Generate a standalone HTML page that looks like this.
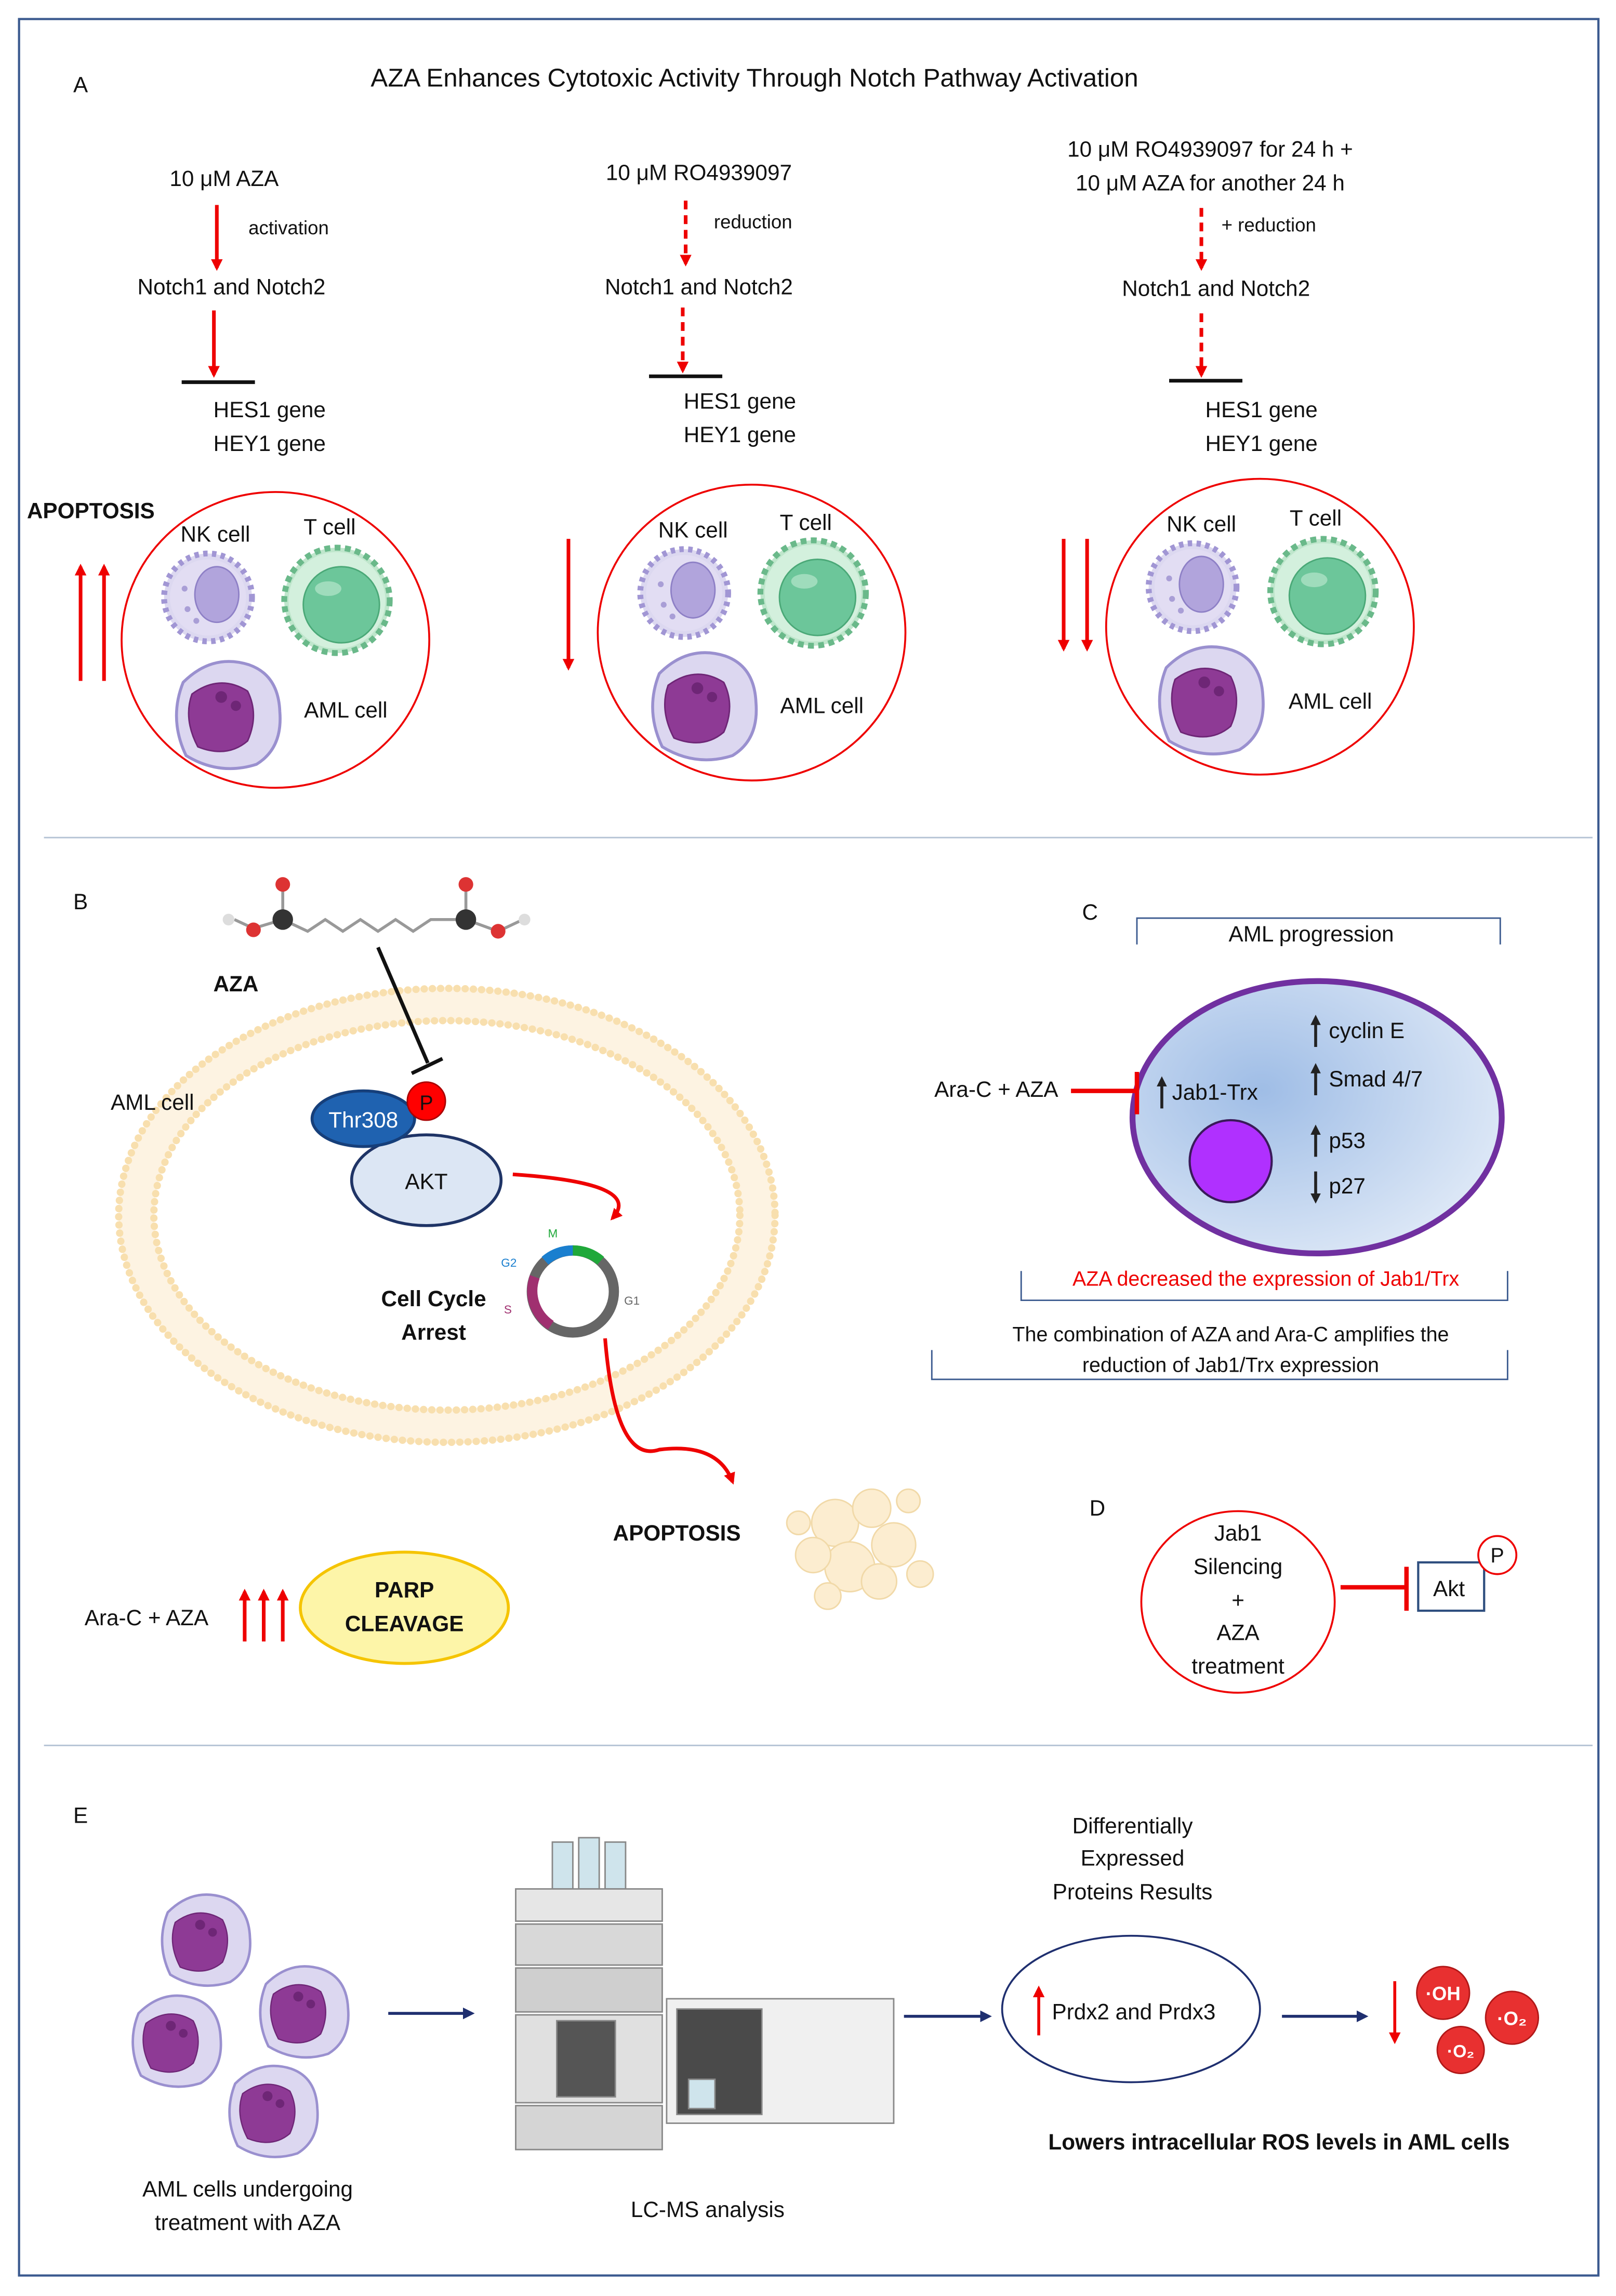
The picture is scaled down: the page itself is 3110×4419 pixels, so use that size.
<!DOCTYPE html>
<html><head><meta charset="utf-8"><style>
html,body{margin:0;padding:0;background:#fff}
svg{display:block}
text{font-family:"Liberation Sans",sans-serif;font-size:15px;fill:#111}
.c{text-anchor:middle}
.b{font-weight:bold}
</style></head><body>
<svg width="3110" height="4419" viewBox="0 0 1103 1568" preserveAspectRatio="none" xmlns="http://www.w3.org/2000/svg">
<defs>
<marker id="ar" markerWidth="8" markerHeight="8" refX="6" refY="4" orient="auto" markerUnits="userSpaceOnUse"><path d="M0,0 L8,4 L0,8 z" fill="#e00"/></marker>
<marker id="an" markerWidth="8" markerHeight="8" refX="6" refY="4" orient="auto" markerUnits="userSpaceOnUse"><path d="M0,0 L8,4 L0,8 z" fill="#1f2f6f"/></marker>
<marker id="ak" markerWidth="7" markerHeight="7" refX="5" refY="3.5" orient="auto" markerUnits="userSpaceOnUse"><path d="M0,0 L7,3.5 L0,7 z" fill="#222"/></marker>
<radialGradient id="cg" cx="0.35" cy="0.4" r="0.75"><stop offset="0" stop-color="#9fbde6"/><stop offset="1" stop-color="#e3ecf8"/></radialGradient>
<g id="nk"><circle r="30" fill="#dcd8f0" stroke="#a196d4" stroke-width="4" stroke-dasharray="3 3"/><circle r="26" fill="#e2ddf3"/><ellipse cx="6" cy="-2" rx="15" ry="19" fill="#b1a4dc" stroke="#8e80c6"/><circle cx="-14" cy="8" r="2" fill="#a99ed6"/><circle cx="-8" cy="16" r="2" fill="#a99ed6"/><circle cx="-16" cy="-6" r="2" fill="#a99ed6"/></g>
<g id="tc"><circle r="36" fill="#bfe6cc" stroke="#6ab98a" stroke-width="4" stroke-dasharray="4 3"/><circle r="33" fill="#d3f0dd"/><circle cx="3" cy="3" r="26" fill="#6cc69a" stroke="#4aa877"/><ellipse cx="-6" cy="-8" rx="9" ry="5" fill="#9fdcbc"/></g>
<g id="aml"><path d="M-30,-20 Q-10,-40 15,-32 Q35,-25 36,0 Q38,25 20,36 Q-5,44 -28,30 Q-40,5 -30,-20z" fill="#dcd7f0" stroke="#9a90cf" stroke-width="2"/><path d="M-24,-12 Q-5,-26 14,-14 Q22,2 14,20 Q0,32 -20,24 Q-30,5 -24,-12z" fill="#8e3a95" stroke="#6e2676"/><circle cx="-4" cy="-10" r="4" fill="#6e2676"/><circle cx="6" cy="-4" r="3.5" fill="#6e2676"/></g>
<g id="amls"><use href="#aml" transform="scale(0.85)"/></g>
</defs>
<rect width="1103" height="1568" fill="#fff"/>
<rect x="13" y="13" width="1078" height="1541" fill="none" stroke="#3b5a8f" stroke-width="1.5"/>
<line x1="30" y1="572" x2="1087" y2="572" stroke="#b4c2d4" stroke-width="1"/>
<line x1="30" y1="1192" x2="1087" y2="1192" stroke="#b4c2d4" stroke-width="1"/>

<!-- A -->
<text x="50" y="63">A</text>
<text x="515" y="59" class="c" style="font-size:17.5px">AZA Enhances Cytotoxic Activity Through Notch Pathway Activation</text>
<g stroke="#e00" stroke-width="2.5" fill="none">
<line x1="148" y1="140" x2="148" y2="183" marker-end="url(#ar)"/>
<line x1="146" y1="212" x2="146" y2="256" marker-end="url(#ar)"/>
<line x1="468" y1="137" x2="468" y2="180" stroke-dasharray="6 4" marker-end="url(#ar)"/>
<line x1="466" y1="210" x2="466" y2="253" stroke-dasharray="6 4" marker-end="url(#ar)"/>
<line x1="820" y1="142" x2="820" y2="183" stroke-dasharray="6 4" marker-end="url(#ar)"/>
<line x1="820" y1="214" x2="820" y2="256" stroke-dasharray="6 4" marker-end="url(#ar)"/>
<line x1="55" y1="465" x2="55" y2="387" marker-end="url(#ar)"/>
<line x1="71" y1="465" x2="71" y2="387" marker-end="url(#ar)"/>
<line x1="388" y1="368" x2="388" y2="456" marker-end="url(#ar)"/>
<line x1="726" y1="368" x2="726" y2="443" marker-end="url(#ar)"/>
<line x1="742" y1="368" x2="742" y2="443" marker-end="url(#ar)"/>
</g>
<g stroke="#111" stroke-width="2.5"><line x1="124" y1="261" x2="174" y2="261"/><line x1="443" y1="257" x2="493" y2="257"/><line x1="798" y1="260" x2="848" y2="260"/></g>
<text x="153" y="127" class="c">10 μM AZA</text>
<text x="197" y="160" class="c" style="font-size:13px">activation</text>
<text x="158" y="201" class="c">Notch1 and Notch2</text>
<text x="184" y="285" class="c">HES1 gene</text><text x="184" y="308" class="c">HEY1 gene</text>
<text x="477" y="123" class="c">10 μM RO4939097</text>
<text x="514" y="156" class="c" style="font-size:13px">reduction</text>
<text x="477" y="201" class="c">Notch1 and Notch2</text>
<text x="505" y="279" class="c">HES1 gene</text><text x="505" y="302" class="c">HEY1 gene</text>
<text x="826" y="107" class="c">10 μM RO4939097 for 24 h +</text>
<text x="826" y="130" class="c">10 μM AZA for another 24 h</text>
<text x="866" y="158" class="c" style="font-size:13px">+ reduction</text>
<text x="830" y="202" class="c">Notch1 and Notch2</text>
<text x="861" y="285" class="c">HES1 gene</text><text x="861" y="308" class="c">HEY1 gene</text>
<text x="62" y="354" class="c b">APOPTOSIS</text>
<g fill="none" stroke="#e00" stroke-width="1.3">
<ellipse cx="188" cy="437" rx="105" ry="101"/><ellipse cx="513" cy="432" rx="105" ry="101"/><ellipse cx="860" cy="428" rx="105" ry="101"/>
</g>
<use href="#nk" x="142" y="408"/><use href="#tc" x="230" y="410"/><use href="#aml" x="155" y="486"/>
<use href="#nk" x="467" y="405"/><use href="#tc" x="555" y="405"/><use href="#aml" x="480" y="480"/>
<use href="#nk" x="814" y="401"/><use href="#tc" x="903" y="404"/><use href="#aml" x="826" y="476"/>
<text x="147" y="370" class="c">NK cell</text><text x="225" y="365" class="c">T cell</text><text x="236" y="490" class="c">AML cell</text>
<text x="473" y="367" class="c">NK cell</text><text x="550" y="362" class="c">T cell</text><text x="561" y="487" class="c">AML cell</text>
<text x="820" y="363" class="c">NK cell</text><text x="898" y="359" class="c">T cell</text><text x="908" y="484" class="c">AML cell</text>

<!-- B -->
<text x="50" y="621">B</text>
<g stroke="#999" stroke-width="2" fill="none"><polyline points="160,628 173,634 193,628 210,636 222,628 234,636 246,628 258,636 270,628 282,636 294,628 318,628 340,636 357,628"/><line x1="193" y1="628" x2="193" y2="605"/><line x1="318" y1="628" x2="318" y2="605"/></g>
<circle cx="193" cy="628" r="7" fill="#333"/><circle cx="318" cy="628" r="7" fill="#333"/>
<circle cx="193" cy="604" r="5" fill="#d33"/><circle cx="318" cy="604" r="5" fill="#d33"/>
<circle cx="173" cy="635" r="5" fill="#d33"/><circle cx="340" cy="636" r="5" fill="#d33"/>
<circle cx="156" cy="628" r="4" fill="#ddd"/><circle cx="358" cy="628" r="4" fill="#ddd"/>
<text x="161" y="677" class="c b">AZA</text>
<ellipse cx="305" cy="830" rx="212" ry="144" fill="none" stroke="#fdf3e2" stroke-width="24"/>
<ellipse cx="305" cy="830" rx="224" ry="155" fill="none" stroke="#f8dfae" stroke-width="5" stroke-dasharray="0.1 5.5" stroke-linecap="round"/>
<ellipse cx="305" cy="830" rx="200" ry="133" fill="none" stroke="#f8dfae" stroke-width="5" stroke-dasharray="0.1 5.5" stroke-linecap="round"/>
<text x="104" y="758" class="c">AML cell</text>
<line x1="258" y1="647" x2="292" y2="726" stroke="#111" stroke-width="2.5"/><line x1="281" y1="733" x2="302" y2="723" stroke="#111" stroke-width="2.5"/>
<ellipse cx="291" cy="806" rx="51" ry="31" fill="#dce6f4" stroke="#1f3466" stroke-width="2"/>
<text x="291" y="812" class="c">AKT</text>
<ellipse cx="248" cy="764" rx="35" ry="19" fill="#1f62b0" stroke="#163f7a" stroke-width="2"/>
<text x="248" y="770" class="c" style="fill:#fff">Thr308</text>
<circle cx="291" cy="752" r="13" fill="#f00" stroke="#a00"/>
<text x="291" y="758" class="c" style="font-size:14px">P</text>
<path d="M350,802 Q440,808 418,832" fill="none" stroke="#e00" stroke-width="2.5" marker-end="url(#ar)"/>
<circle cx="391" cy="882" r="28" fill="none" stroke="#666" stroke-width="7"/>
<path d="M372,861 A28,28 0 0 1 391,854" fill="none" stroke="#1a7fcf" stroke-width="7"/>
<path d="M391,854 A28,28 0 0 1 410,861" fill="none" stroke="#1fa83a" stroke-width="7"/>
<path d="M365,872 A28,28 0 0 0 376,905" fill="none" stroke="#a03070" stroke-width="7"/>
<text x="374" y="845" style="font-size:8px;fill:#1fa83a">M</text><text x="342" y="865" style="font-size:8px;fill:#1a7fcf">G2</text><text x="344" y="897" style="font-size:8px;fill:#a03070">S</text><text x="426" y="891" style="font-size:8px;fill:#666">G1</text>
<text x="296" y="892" class="c b">Cell Cycle</text><text x="296" y="915" class="c b">Arrest</text>
<path d="M413,914 Q420,1000 450,990 Q490,985 500,1012" fill="none" stroke="#e00" stroke-width="2.5" marker-end="url(#ar)"/>
<text x="462" y="1052" class="c b">APOPTOSIS</text>
<g fill="#fcebc8" stroke="#efd39a" stroke-width="1" opacity="0.85">
<circle cx="570" cy="1040" r="16"/><circle cx="595" cy="1030" r="13"/><circle cx="610" cy="1055" r="15"/><circle cx="580" cy="1070" r="17"/><circle cx="555" cy="1062" r="12"/><circle cx="600" cy="1080" r="12"/><circle cx="620" cy="1025" r="8"/><circle cx="545" cy="1040" r="8"/><circle cx="628" cy="1075" r="9"/><circle cx="565" cy="1090" r="9"/>
</g>
<text x="100" y="1110" class="c">Ara-C + AZA</text>
<g stroke="#e00" stroke-width="2.5"><line x1="167" y1="1121" x2="167" y2="1087" marker-end="url(#ar)"/><line x1="180" y1="1121" x2="180" y2="1087" marker-end="url(#ar)"/><line x1="193" y1="1121" x2="193" y2="1087" marker-end="url(#ar)"/></g>
<ellipse cx="276" cy="1098" rx="71" ry="38" fill="#fdf5a8" stroke="#f5c400" stroke-width="2"/>
<text x="276" y="1091" class="c b">PARP</text><text x="276" y="1114" class="c b">CLEAVAGE</text>

<!-- C -->
<text x="744" y="628" class="c">C</text>
<polyline points="776,645 776,627 1024,627 1024,645" fill="none" stroke="#3b5a8f" stroke-width="1"/>
<text x="895" y="643" class="c">AML progression</text>
<ellipse cx="899" cy="763" rx="126" ry="93" fill="url(#cg)" stroke="#7030a0" stroke-width="4"/>
<circle cx="840" cy="793" r="28" fill="#b030ff" stroke="#3a1a5a" stroke-width="1.5"/>
<g stroke="#222" stroke-width="2">
<line x1="898" y1="715" x2="898" y2="695" marker-end="url(#ak)"/><line x1="898" y1="748" x2="898" y2="728" marker-end="url(#ak)"/><line x1="898" y1="790" x2="898" y2="770" marker-end="url(#ak)"/><line x1="898" y1="800" x2="898" y2="820" marker-end="url(#ak)"/><line x1="793" y1="757" x2="793" y2="737" marker-end="url(#ak)"/>
</g>
<text x="907" y="709">cyclin E</text><text x="907" y="742">Smad 4/7</text><text x="800" y="751">Jab1-Trx</text><text x="907" y="784">p53</text><text x="907" y="815">p27</text>
<text x="680" y="749" class="c">Ara-C + AZA</text>
<line x1="731" y1="745" x2="776" y2="745" stroke="#e00" stroke-width="3"/><line x1="776" y1="732" x2="776" y2="761" stroke="#e00" stroke-width="3"/>
<polyline points="697,868 697,888 1029,888 1029,868" fill="none" stroke="#3b5a8f" stroke-width="1"/>
<text x="864" y="878" class="c" style="fill:#e00;font-size:14px">AZA decreased the expression of Jab1/Trx</text>
<polyline points="636,922 636,942 1029,942 1029,922" fill="none" stroke="#3b5a8f" stroke-width="1"/>
<text x="840" y="916" class="c" style="font-size:14px">The combination of AZA and Ara-C amplifies the</text>
<text x="840" y="937" class="c" style="font-size:14px">reduction of Jab1/Trx expression</text>

<!-- D -->
<text x="749" y="1035" class="c">D</text>
<ellipse cx="845" cy="1094" rx="66" ry="62" fill="none" stroke="#e00" stroke-width="1.3"/>
<text x="845" y="1052" class="c">Jab1</text><text x="845" y="1075" class="c">Silencing</text><text x="845" y="1098" class="c">+</text><text x="845" y="1120" class="c">AZA</text><text x="845" y="1143" class="c">treatment</text>
<line x1="915" y1="1084" x2="960" y2="1084" stroke="#e00" stroke-width="3"/><line x1="960" y1="1070" x2="960" y2="1100" stroke="#e00" stroke-width="3"/>
<rect x="968" y="1067" width="45" height="33" fill="#fff" stroke="#2f4f7f" stroke-width="1.5"/>
<text x="989" y="1090" class="c">Akt</text>
<circle cx="1022" cy="1062" r="13" fill="#fff" stroke="#e00" stroke-width="1.3"/>
<text x="1022" y="1067" class="c" style="font-size:14px">P</text>

<!-- E -->
<text x="55" y="1245" class="c">E</text>
<use href="#amls" x="140" y="1323"/><use href="#amls" x="207" y="1372"/><use href="#amls" x="120" y="1392"/><use href="#amls" x="186" y="1440"/>
<text x="169" y="1500" class="c">AML cells undergoing</text><text x="169" y="1523" class="c">treatment with AZA</text>
<line x1="265" y1="1375" x2="322" y2="1375" stroke="#1f2f6f" stroke-width="2" marker-end="url(#an)"/>
<line x1="617" y1="1377" x2="675" y2="1377" stroke="#1f2f6f" stroke-width="2" marker-end="url(#an)"/>
<line x1="875" y1="1377" x2="932" y2="1377" stroke="#1f2f6f" stroke-width="2" marker-end="url(#an)"/>
<g stroke="#888" stroke-width="1">
<rect x="377" y="1258" width="14" height="32" fill="#cfe4ec"/><rect x="395" y="1255" width="14" height="35" fill="#cfe4ec"/><rect x="413" y="1258" width="14" height="32" fill="#cfe4ec"/>
<rect x="352" y="1290" width="100" height="22" fill="#e6e6e6"/>
<rect x="352" y="1314" width="100" height="28" fill="#d8d8d8"/>
<rect x="352" y="1344" width="100" height="30" fill="#cfcfcf"/>
<rect x="352" y="1376" width="100" height="60" fill="#e0e0e0"/>
<rect x="352" y="1438" width="100" height="30" fill="#d5d5d5"/>
<rect x="380" y="1380" width="40" height="52" fill="#555"/>
<rect x="455" y="1365" width="155" height="85" fill="#f0f0f0"/>
<rect x="462" y="1372" width="58" height="72" fill="#4a4a4a"/>
<rect x="470" y="1420" width="18" height="20" fill="#cfe4ec"/>
</g>
<text x="483" y="1514" class="c">LC-MS analysis</text>
<text x="773" y="1252" class="c">Differentially</text><text x="773" y="1274" class="c">Expressed</text><text x="773" y="1297" class="c">Proteins Results</text>
<ellipse cx="772" cy="1372" rx="88" ry="50" fill="none" stroke="#1f2f6f" stroke-width="1.3"/>
<line x1="709" y1="1390" x2="709" y2="1358" stroke="#e00" stroke-width="2" marker-end="url(#ar)"/>
<text x="718" y="1379">Prdx2 and Prdx3</text>
<line x1="952" y1="1353" x2="952" y2="1394" stroke="#e00" stroke-width="2" marker-end="url(#ar)"/>
<g fill="#e83030" stroke="#b01818"><circle cx="985" cy="1361" r="18"/><circle cx="1032" cy="1378" r="18"/><circle cx="997" cy="1400" r="16"/></g>
<text x="985" y="1366" class="c b" style="fill:#fff;font-size:13px">·OH</text>
<text x="1032" y="1383" class="c b" style="fill:#fff;font-size:13px">·O₂</text>
<text x="997" y="1405" class="c b" style="fill:#fff;font-size:12px">·O₂</text>
<text x="873" y="1468" class="c b">Lowers intracellular ROS levels in AML cells</text>
</svg>
</body></html>
